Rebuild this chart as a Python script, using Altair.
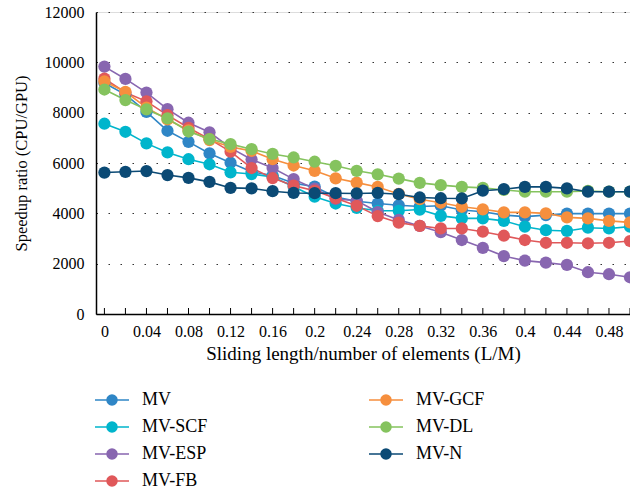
import altair as alt
import pandas as pd

x_vals = [0, 0.02, 0.04, 0.06, 0.08, 0.1, 0.12, 0.14, 0.16, 0.18, 0.2, 0.22, 0.24,
          0.26, 0.28, 0.3, 0.32, 0.34, 0.36, 0.38, 0.4, 0.42, 0.44, 0.46, 0.48, 0.5]

mv = [9180, 8720, 8030, 7280, 6840, 6380, 6010, 5650, 5500, 5200, 5060, 4650, 4480,
      4390, 4320, 4270, 4300, 4130, 4060, 3930, 3870, 3930, 3990, 3990, 3990, 3990]
mv_scf = [7560, 7240, 6780, 6420, 6150, 5950, 5630, 5560, 5450, 5060, 4660, 4390, 4220,
          4100, 4100, 4150, 3900, 3800, 3800, 3700, 3470, 3330, 3300, 3430, 3400, 3470]
mv_esp = [9830, 9340, 8800, 8140, 7600, 7220, 6600, 6140, 5800, 5360, 4980, 4570, 4500,
          4050, 3740, 3500, 3250, 2940, 2630, 2300, 2120, 2040, 1950, 1660, 1580, 1460]
mv_fb = [9350, 8800, 8450, 7900, 7400, 6950, 6450, 5800, 5400, 5100, 4900, 4600, 4300,
         3890, 3630, 3500, 3400, 3400, 3270, 3110, 2940, 2830, 2830, 2810, 2830, 2900]
mv_gcf = [9240, 8830, 8200, 7730, 7300, 6910, 6640, 6480, 6150, 5900, 5690, 5390, 5220,
          5050, 4770, 4560, 4420, 4260, 4160, 4040, 4040, 4000, 3840, 3800, 3700, 3640]
mv_dl = [8920, 8500, 8130, 7770, 7250, 6950, 6750, 6550, 6360, 6220, 6050, 5890, 5690,
         5550, 5380, 5210, 5120, 5050, 5010, 4930, 4860, 4860, 4860, 4890, 4860, 4860]
mv_n = [5620, 5650, 5680, 5520, 5410, 5250, 5010, 4990, 4880, 4810, 4800, 4800, 4790,
        4810, 4760, 4630, 4600, 4590, 4900, 4960, 5050, 5050, 4990, 4860, 4860, 4860]

series_names = ["MV", "MV-SCF", "MV-ESP", "MV-FB", "MV-GCF", "MV-DL", "MV-N"]
series_values = [mv, mv_scf, mv_esp, mv_fb, mv_gcf, mv_dl, mv_n]
series_colors = ["#2f86c6", "#00b5cc", "#8866b0", "#e0585a", "#f68f3e", "#85c35e", "#0b4a75"]

x_label_vals = [0, 0.04, 0.08, 0.12, 0.16, 0.2, 0.24, 0.28, 0.32, 0.36, 0.4, 0.44, 0.48]
y_ticks = [0, 2000, 4000, 6000, 8000, 10000, 12000]

rows = []
for k, (name, vals) in enumerate(zip(series_names, series_values)):
    for xv, yv in zip(x_vals, vals):
        rows.append({"x": xv, "y": yv, "series": name, "order": k})
df = pd.DataFrame(rows)
ticks_df = pd.DataFrame({"x": x_vals})

FONT = "Liberation Serif"
W, H = 534, 302

sym_path = "M-1.7,0H1.7M0.5,0A0.5,0.5,0,1,1,-0.5,0A0.5,0.5,0,1,1,0.5,0Z"

x_scale = alt.Scale(domain=[-0.008, 0.5], nice=False, zero=False)
y_scale = alt.Scale(domain=[0, 12000], nice=False)

color = alt.Color(
    "series:N",
    scale=alt.Scale(domain=series_names, range=series_colors),
    legend=alt.Legend(
        title=None, orient="none", legendX=5, legendY=377, columns=2,
        columnPadding=158, rowPadding=7, symbolType=sym_path, symbolSize=400,
        symbolStrokeWidth=1.5, labelFont=FONT, labelFontSize=18, labelColor="black",
        labelOffset=19,
    ),
)

x_enc = alt.X(
    "x:Q", scale=x_scale,
    axis=alt.Axis(
        values=x_label_vals, format="~g", title="Sliding length/number of elements (L/M)",
        ticks=False, grid=False, labelFont=FONT, labelFontSize=16, labelColor="black",
        labelPadding=9, titleFont=FONT, titleFontSize=19, titleFontWeight="normal",
        titleColor="black", titlePadding=5, domainColor="black", domainWidth=1.5,
    ),
)
y_enc = alt.Y(
    "y:Q", scale=y_scale,
    axis=alt.Axis(
        values=y_ticks, format="d", title="Speedup ratio (CPU/GPU)", ticks=False, grid=True,
        gridColor="#333333", gridDash=[1.5, 10.5], gridWidth=1.2,
        labelFont=FONT, labelFontSize=16, labelColor="black", labelPadding=12,
        titleFont=FONT, titleFontSize=16.5, titleFontWeight="normal", titleColor="black",
        titlePadding=15, domainColor="black", domainWidth=1.5,
    ),
)

lines = alt.Chart(df).mark_line(strokeWidth=1.6).encode(
    x=x_enc, y=y_enc, color=color, detail="series:N", order="x:Q"
)
points = alt.Chart(df).mark_point(filled=True, size=150, opacity=1).encode(
    x=alt.X("x:Q", scale=x_scale), y=alt.Y("y:Q", scale=y_scale), color=color,
    order="order:Q",
)
xticks = alt.Chart(ticks_df).mark_rule(color="black", strokeWidth=1).encode(
    x=alt.X("x:Q", scale=x_scale), y=alt.value(H), y2=alt.value(H - 6)
)

chart = alt.layer(xticks, lines, points).properties(
    width=W, height=H,
    autosize=alt.AutoSizeParams(type="none"),
    padding={"left": 96, "top": 12, "right": 0, "bottom": 176},
).configure_view(stroke=None).configure(background="white")

chart.save("out.html", embed_options={"renderer": "svg", "actions": False})
